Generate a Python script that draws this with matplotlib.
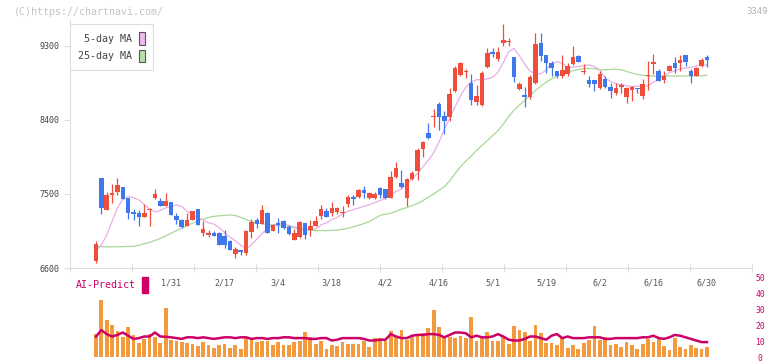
import numpy as np
import matplotlib
matplotlib.use("Agg")
import matplotlib.pyplot as plt
import matplotlib.transforms as mtransforms
from matplotlib.patches import Patch, Rectangle

# daily candles, index 0 = first trading day shown
opens = [6689, 7694, 7305, 7490, 7528, 7585, 7451, 7281, 7269, 7224,
         7300, 7451, 7411, 7354, 7399, 7232, 7184, 7111, 7184, 7318,
         7029, 7001, 7029, 7029, 6989, 6928, 6770, 6819, 6786, 7041,
         7184, 7135, 7273, 7050, 7151, 7171, 7102, 6941, 6973, 7143,
         7062, 7111, 7232, 7293, 7265, 7280, 7265, 7378, 7467, 7467,
         7549, 7450, 7455, 7569, 7557, 7455, 7711, 7630, 7450, 7685,
         7779, 8042, 8236, 8433, 8598, 8448, 8440, 8753, 8950, 8980,
         8855, 8624, 8582, 9039, 9226, 9143, 9340, 9348, 9162, 8777,
         8705, 8677, 8847, 9333, 9190, 9097, 8990, 8935, 8959, 9081,
         9182, 8985, 8887, 8887, 8785, 8895, 8806, 8733, 8806, 8685,
         8765, 8790, 8692, 8929, 9081, 8996, 8887, 8996, 9089, 9097,
         9190, 8996, 8939, 9057, 9162]
highs = [6932, 7700, 7520, 7622, 7694, 7590, 7455, 7314, 7305, 7378,
         7326, 7557, 7451, 7508, 7400, 7272, 7190, 7265, 7295, 7320,
         7175, 7062, 7050, 7035, 7062, 6935, 6859, 6822, 7060, 7192,
         7212, 7370, 7280, 7135, 7212, 7184, 7123, 7074, 7175, 7150,
         7184, 7232, 7370, 7326, 7398, 7340, 7360, 7490, 7488, 7560,
         7597, 7520, 7520, 7580, 7560, 7775, 7889, 7792, 7690, 7775,
         8054, 8148, 8362, 8531, 8613, 8514, 8789, 9060, 9100, 9019,
         8957, 8826, 8990, 9280, 9273, 9284, 9567, 9394, 9170, 8868,
         8806, 8950, 9462, 9454, 9195, 9122, 8995, 9190, 9090, 9300,
         9190, 9081, 8929, 8890, 8990, 8929, 8847, 8847, 8855, 8806,
         8813, 8790, 8895, 9122, 9203, 9020, 8990, 9069, 9162, 9190,
         9195, 9019, 9045, 9150, 9190]
lows = [6664, 7260, 7300, 7390, 7490, 7440, 7196, 7184, 7111, 7220,
        7111, 7445, 7355, 7350, 7245, 7135, 7083, 7108, 7180, 7120,
        6989, 6981, 6985, 6875, 6840, 6815, 6725, 6758, 6758, 6961,
        7083, 7130, 7025, 7045, 7029, 7074, 7001, 6935, 6961, 6953,
        6989, 7105, 7192, 7215, 7232, 7260, 7220, 7340, 7370, 7455,
        7450, 7440, 7440, 7455, 7440, 7450, 7700, 7569, 7349, 7670,
        7670, 7945, 8169, 8320, 8278, 8225, 8391, 8740, 8940, 8910,
        8582, 8582, 8570, 9029, 9172, 9114, 9300, 9300, 8868, 8770,
        8564, 8650, 8840, 9122, 8966, 8929, 8905, 8910, 8930, 9069,
        9100, 8959, 8806, 8747, 8780, 8785, 8673, 8705, 8726, 8605,
        8637, 8726, 8653, 8765, 8959, 8870, 8847, 8990, 8975, 8990,
        9057, 8847, 8935, 9050, 9040]
closes = [6892, 7333, 7488, 7516, 7609, 7443, 7272, 7262, 7224, 7269,
          7310, 7500, 7358, 7415, 7248, 7184, 7102, 7184, 7289, 7124,
          7074, 7029, 6993, 6880, 6880, 6819, 6831, 6790, 7050, 7159,
          7135, 7305, 7029, 7123, 7123, 7090, 7013, 7029, 7163, 7001,
          7111, 7175, 7318, 7224, 7330, 7330, 7285, 7460, 7435, 7549,
          7508, 7508, 7500, 7488, 7455, 7711, 7812, 7581, 7679, 7754,
          8033, 8127, 8185, 8453, 8433, 8391, 8720, 9029, 9089, 8995,
          8643, 8692, 8966, 9210, 9205, 9231, 9373, 9358, 8921, 8835,
          8677, 8921, 9325, 9178, 9089, 9029, 8929, 9008, 9057, 9162,
          9110, 8995, 8838, 8838, 8959, 8806, 8747, 8785, 8818, 8793,
          8806, 8780, 8838, 8947, 9105, 8879, 8929, 9057, 9036, 9130,
          9110, 8939, 9029, 9130, 9130]

ma5 = [6810, 6880, 7000, 7170, 7330, 7440, 7470, 7455, 7430, 7370,
       7320, 7280, 7300, 7330, 7350, 7365, 7350, 7290, 7250, 7210,
       7185, 7150, 7135, 7090, 7030, 6975, 6930, 6880, 6830, 6880,
       6950, 7020, 7080, 7120, 7135, 7140, 7115, 7100, 7085, 7070,
       7065, 7075, 7125, 7150, 7190, 7215, 7260, 7290, 7310, 7330,
       7350, 7370, 7395, 7420, 7450, 7490, 7530, 7560, 7620, 7690,
       7750, 7830, 7910, 8000, 8130, 8290, 8420, 8560, 8690, 8800,
       8860, 8890, 8890, 8900, 8920, 8980, 9100, 9230, 9270, 9180,
       9080, 8990, 8970, 8960, 9010, 9080, 9110, 9090, 9040, 9040,
       9050, 9060, 9070, 9050, 9010, 8910, 8870, 8840, 8830, 8815,
       8810, 8810, 8810, 8815, 8860, 8890, 8940, 8975, 9000, 9020,
       9030, 9040, 9055, 9065, 9070]
ma25 = [6865, 6860, 6858, 6858, 6858, 6860, 6862, 6865, 6875, 6895,
        6912, 6935, 6960, 6990, 7022, 7055, 7085, 7115, 7145, 7175,
        7195, 7215, 7228, 7235, 7240, 7245, 7238, 7215, 7190, 7165,
        7150, 7138, 7130, 7125, 7115, 7105, 7100, 7090, 7075, 7065,
        7058, 7055, 7055, 7055, 7056, 7060, 7070, 7083, 7100, 7120,
        7140, 7165, 7200, 7240, 7255, 7265, 7290, 7315, 7335, 7360,
        7385, 7420, 7460, 7500, 7545, 7590, 7660, 7750, 7830, 7900,
        7960, 8030, 8090, 8150, 8210, 8270, 8350, 8440, 8520, 8580,
        8640, 8700, 8760, 8810, 8860, 8900, 8935, 8960, 8985, 9000,
        9015, 9025, 9028, 9025, 9010, 9010, 9015, 9018, 9010, 8990,
        8970, 8955, 8945, 8935, 8935, 8935, 8935, 8935, 8935, 8935,
        8935, 8935, 8936, 8937, 8947]

volume = [14.6, 35.8, 23.3, 20.2, 16.6, 12.9, 19.1, 13.9, 8.9, 11.4,
          14.6, 12.5, 8.9, 30.8, 11.0, 10.4, 9.8, 8.9, 8.3, 7.3,
          9.8, 7.7, 5.8, 7.7, 8.3, 5.8, 7.7, 5.2, 11.9, 11.9,
          9.8, 10.4, 10.4, 7.7, 9.8, 7.7, 7.7, 9.8, 10.4, 16.0,
          12.5, 8.3, 10.4, 5.2, 7.7, 7.3, 9.8, 8.3, 8.3, 8.3,
          10.4, 6.2, 11.9, 11.9, 10.4, 16.2, 13.5, 17.1, 11.0, 12.5,
          13.5, 15.0, 18.1, 29.6, 18.7, 12.5, 12.5, 11.9, 13.1, 11.9,
          25.0, 10.4, 11.9, 16.0, 10.4, 10.4, 12.5, 8.3, 19.4, 17.1,
          16.0, 10.4, 20.2, 15.2, 8.9, 8.9, 7.7, 12.5, 5.8, 7.7,
          5.2, 8.9, 10.8, 19.4, 10.8, 12.5, 7.7, 8.3, 6.2, 9.8,
          7.7, 5.2, 8.3, 11.4, 9.8, 11.9, 7.3, 4.6, 11.9, 6.7,
          5.2, 7.7, 5.8, 5.2, 6.7]
ai_predict = [13.0, 17.0, 14.5, 13.0, 14.0, 15.5, 13.5, 11.5, 12.0, 13.0,
              13.0, 15.5, 13.0, 12.8, 12.5, 12.0, 11.5, 12.5, 12.5, 12.0,
              12.5, 12.0, 11.5, 12.0, 12.5, 12.5, 12.0, 12.5, 12.5, 11.5,
              12.0, 12.0, 11.5, 12.0, 12.0, 12.5, 12.5, 12.0, 12.0, 12.0,
              11.5, 11.5, 12.0, 12.0, 10.5, 11.0, 12.0, 12.0, 12.0, 12.0,
              11.5, 10.5, 10.5, 11.0, 11.0, 14.5, 13.0, 12.0, 12.0, 13.5,
              14.0, 14.0, 14.5, 14.5, 14.0, 12.5, 14.0, 15.5, 15.5, 15.0,
              12.5, 13.5, 12.5, 12.5, 13.0, 14.5, 13.0, 11.0, 10.5, 10.5,
              11.5, 13.0, 13.0, 12.0, 11.0, 13.5, 14.5, 12.0, 13.0, 12.0,
              12.0, 12.0, 12.5, 12.5, 12.5, 11.5, 11.5, 12.0, 12.0, 12.0,
              12.0, 12.0, 12.5, 12.5, 13.5, 12.0, 11.5, 12.5, 14.0, 13.5,
              12.5, 11.5, 10.5, 9.5, 9.5]

date_idx = [14, 24, 34, 44, 54, 64, 74, 84, 94, 104, 114]
date_labels = ["1/31", "2/17", "3/4", "3/18", "4/2", "4/16", "5/1", "5/19", "6/2", "6/16", "6/30"]
price_ticks = [6600, 7500, 8400, 9300]
vol_ticks = [0, 10, 20, 30, 40, 50]

UP, DOWN = "#f04e3c", "#3f78ec"
MONO = "DejaVu Sans Mono"

W, H = 772, 361
fig = plt.figure(figsize=(W / 100, H / 100), dpi=100)

def px(x0, y0, x1, y1):
    return [x0 / W, 1 - y1 / H, (x1 - x0) / W, (y1 - y0) / H]

idx = np.arange(len(closes))
o, h, l, c = map(np.array, (opens, highs, lows, closes))
col = np.where(c >= o, UP, DOWN)
xlim = (-4.85, 122.4)

# volume panel first so the price panel (and the date labels) sit above it
ax2 = fig.add_axes(px(70, 269, 752, 357.3))
ax2.bar(idx, volume, width=0.7, color="#f39a3e", linewidth=0)
ax2.plot(idx, ai_predict, color="#cc0066", lw=1.8)
ax2.set_xlim(*xlim)
ax2.set_ylim(0, 55.2)
ax2.patch.set_visible(False)
for s in ax2.spines.values():
    s.set_visible(False)
ax2.set_xticks([])
ax2.yaxis.tick_right()
ax2.set_yticks(vol_ticks)
ax2.set_yticklabels([str(v) for v in vol_ticks], family=MONO, fontsize=5.8, color="#cc0066")
ax2.tick_params(axis="y", length=0, pad=6)
for t in ax2.get_yticklabels():
    t.set_horizontalalignment("center")

ax = fig.add_axes(px(70, 20, 752, 268))
ax.patch.set_visible(False)
ax.plot(idx, ma25, color="#a8d898", lw=0.9, zorder=1)
ax.plot(idx, ma5, color="#e8aee8", lw=0.9, zorder=1)
ax.vlines(idx, l, h, colors=col, lw=0.9, zorder=2)
ax.bar(idx, np.maximum(np.abs(c - o), 14), bottom=np.minimum(o, c),
       width=0.85, color=col, linewidth=0, zorder=3)
ax.set_xlim(*xlim)
ax.set_ylim(6600, 9616)
for s in ("top", "right"):
    ax.spines[s].set_visible(False)
for s in ("left", "bottom"):
    ax.spines[s].set_color("#dddddd")
ax.set_yticks(price_ticks)
ax.set_yticklabels([str(p) for p in price_ticks], family=MONO, fontsize=6, color="#444444")
ax.tick_params(axis="y", length=4.3, pad=3.5, color="#dddddd")
ax.set_xticks(np.arange(xlim[0], xlim[1] + 0.1, 62 / 5.36))
ax.set_xticklabels([])
ax.tick_params(axis="x", direction="inout", length=6, color="#dddddd")

leg = ax.legend(handles=[Patch(facecolor="#f0b8f0", edgecolor="#555555", lw=0.8),
                         Patch(facecolor="#b8e0a8", edgecolor="#555555", lw=0.8)],
                labels=["5-day MA", "25-day MA"], loc="upper left",
                bbox_to_anchor=(70 / W, 1 - 24 / H), bbox_transform=fig.transFigure,
                borderaxespad=0, markerfirst=False, fancybox=False, framealpha=1,
                edgecolor="#dddddd", handlelength=0.6, handleheight=1.5,
                handletextpad=0.6, labelspacing=0.5, borderpad=0.85,
                prop={"family": MONO, "size": 7.2})
for t in leg.get_texts():
    t.set_color("#444444")
leg.get_frame().set_linewidth(0.8)

trans = mtransforms.blended_transform_factory(ax.transData, fig.transFigure)
for i, lab in zip(date_idx, date_labels):
    ax.text(i, 1 - 283 / H, lab, transform=trans, ha="center", va="center",
            family=MONO, fontsize=6, color="#555555", clip_on=False)

fig.text(76 / W, 1 - 285 / H, "AI-Predict", family=MONO, fontsize=7.2,
         color="#cc0066", va="center", ha="left")
fig.patches.append(Rectangle((142 / W, 1 - 293 / H), 6 / W, 16 / H,
                             transform=fig.transFigure, color="#cc0066"))
fig.text(14 / W, 1 - 12 / H, "(C)https://chartnavi.com/", family=MONO,
         fontsize=7.2, color="#c4c4c4", va="center", ha="left")
fig.text(768 / W, 1 - 12 / H, "3349", family=MONO, fontsize=6.5,
         color="#b0b0b0", va="center", ha="right")

fig.savefig("out.png", dpi=100)
